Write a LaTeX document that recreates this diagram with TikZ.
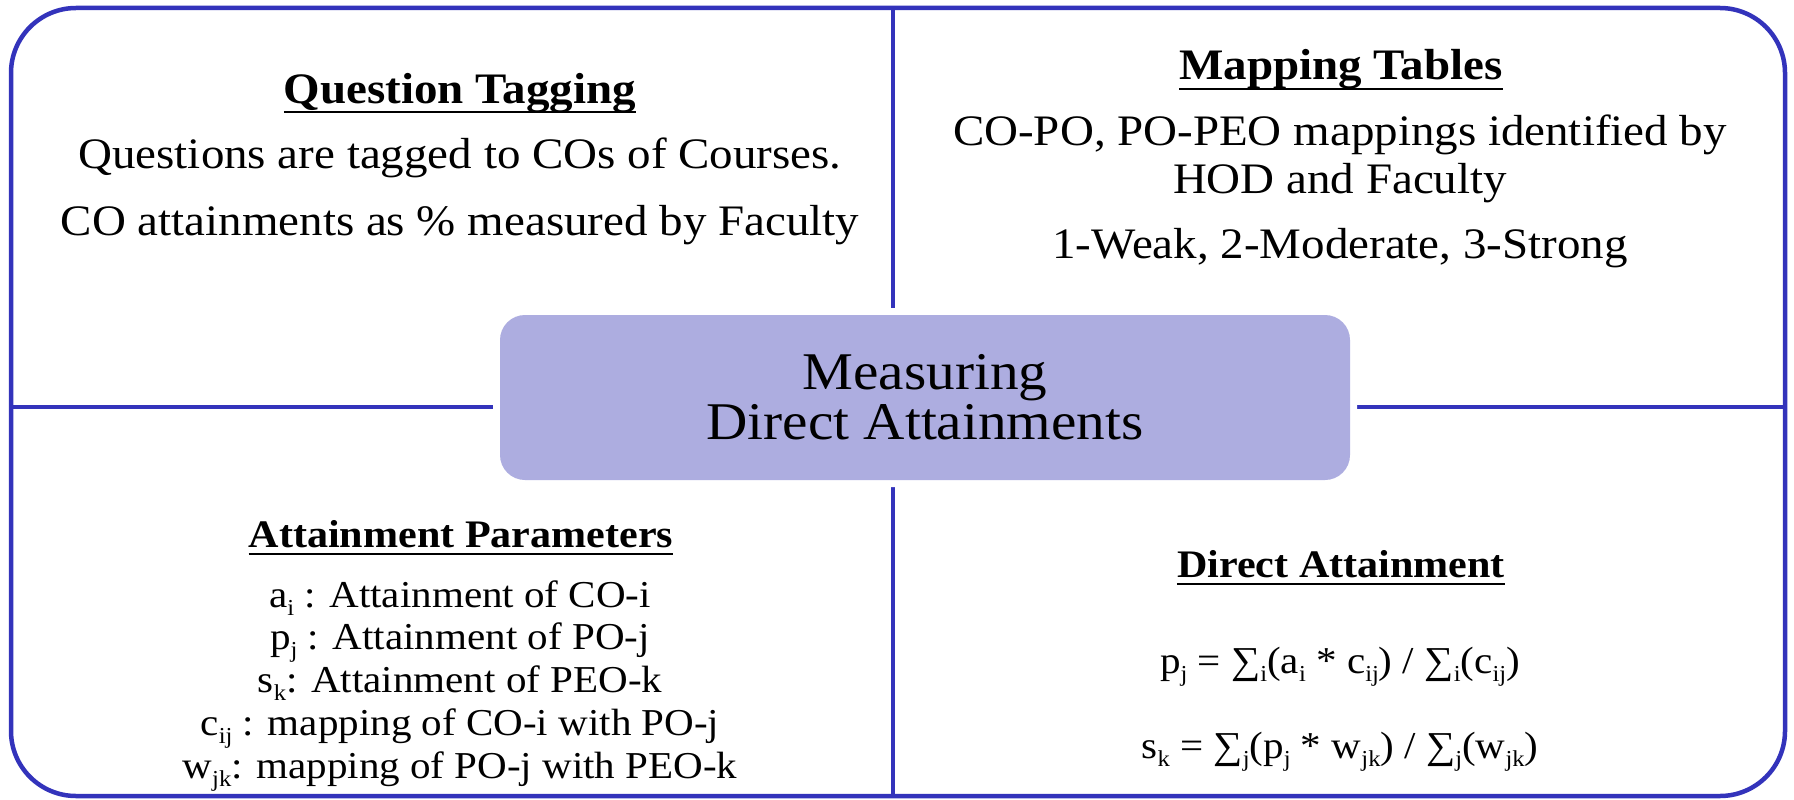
\documentclass[tikz,border=0pt]{standalone}
\usepackage{graphicx}
\usepackage{fontspec}
\setmainfont{Liberation Serif}[FakeStretch=1.08]
\definecolor{frameblue}{RGB}{51,51,187}
\definecolor{boxfill}{RGB}{173,173,224}
\newcommand\subx[1]{\raisebox{-0.22em}{\scalebox{0.6}{#1}}}
\begin{document}
\begin{tikzpicture}[x=1pt,y=-1pt,
  frameline/.style={draw=frameblue,line width=4.5pt},
  bigtext/.style={font=\fontsize{43.5}{50}\selectfont, anchor=base, inner sep=0pt},
  bigtitle/.style={font=\fontsize{43.5}{50}\selectfont\bfseries, anchor=base, inner sep=0pt},
  smalltext/.style={font=\fontsize{38}{42}\selectfont, anchor=base, inner sep=0pt},
  smalltitle/.style={font=\fontsize{39}{44}\selectfont\bfseries, anchor=base, inner sep=0pt},
  uline/.style={draw=black, line width=2.5pt},
  centerbox/.style={rectangle, rounded corners=25pt, fill=boxfill,
    preaction={draw=white, line width=14pt},
    minimum width=850pt, minimum height=165pt, inner sep=0pt,
    align=center, font=\fontsize{53}{50}\selectfont}]
\useasboundingbox (0,0) rectangle (1794,800);
% frame
\draw[frameline, rounded corners=65pt] (11,8) rectangle (1785,796);
\coordinate (vtop) at (893,8);
\coordinate (vbot) at (893,796);
\coordinate (hleft) at (11,407);
\coordinate (hright) at (1785,407);
\draw[frameline] (vtop) -- (vbot);
\draw[frameline] (hleft) -- (hright);
% centre
\node[centerbox] (box) at (925,397.5) {Measuring\\Direct Attainments};
% top-left
\node[bigtitle] (tlt) at (460,103) {Question Tagging};
\draw[uline] ([yshift=-9pt]tlt.base west) -- ([yshift=-9pt]tlt.base east);
\node[bigtext] (tl1) at (460,168) {Questions are tagged to COs of Courses.};
\node[bigtext] (tl2) at (460,235) {CO attainments as \% measured by Faculty};
% top-right
\node[bigtitle] (trt) at (1341,80) {Mapping Tables};
\draw[uline] ([yshift=-9pt]trt.base west) -- ([yshift=-9pt]trt.base east);
\node[bigtext] (tr1) at (1340,145) {CO-PO, PO-PEO mappings identified by};
\node[bigtext] (tr2) at (1340,193) {HOD and Faculty};
\node[bigtext] (tr3) at (1340,258) {1-Weak, 2-Moderate, 3-Strong};
% bottom-left
\node[smalltitle] (blt) at (461,547) {Attainment Parameters};
\draw[uline] ([yshift=-7pt]blt.base west) -- ([yshift=-7pt]blt.base east);
\node[smalltext] (bl1) at (460,607) {a\subx{i} : Attainment of CO-i};
\node[smalltext] (bl2) at (460,649) {p\subx{j} : Attainment of PO-j};
\node[smalltext] (bl3) at (460,692) {s\subx{k}: Attainment of PEO-k};
\node[smalltext] (bl4) at (460,735) {c\subx{ij} : mapping of CO-i with PO-j};
\node[smalltext] (bl5) at (460,778) {w\subx{jk}: mapping of PO-j with PEO-k};
% bottom-right
\node[smalltitle] (brt) at (1341,577) {Direct Attainment};
\draw[uline] ([yshift=-7pt]brt.base west) -- ([yshift=-7pt]brt.base east);
\node[smalltext] (br1) at (1340,673) {p\subx{j} = ∑\subx{i}(a\subx{i} * c\subx{ij}) / ∑\subx{i}(c\subx{ij})};
\node[smalltext] (br2) at (1340,758) {s\subx{k} = ∑\subx{j}(p\subx{j} * w\subx{jk}) / ∑\subx{j}(w\subx{jk})};
\end{tikzpicture}
\end{document}
